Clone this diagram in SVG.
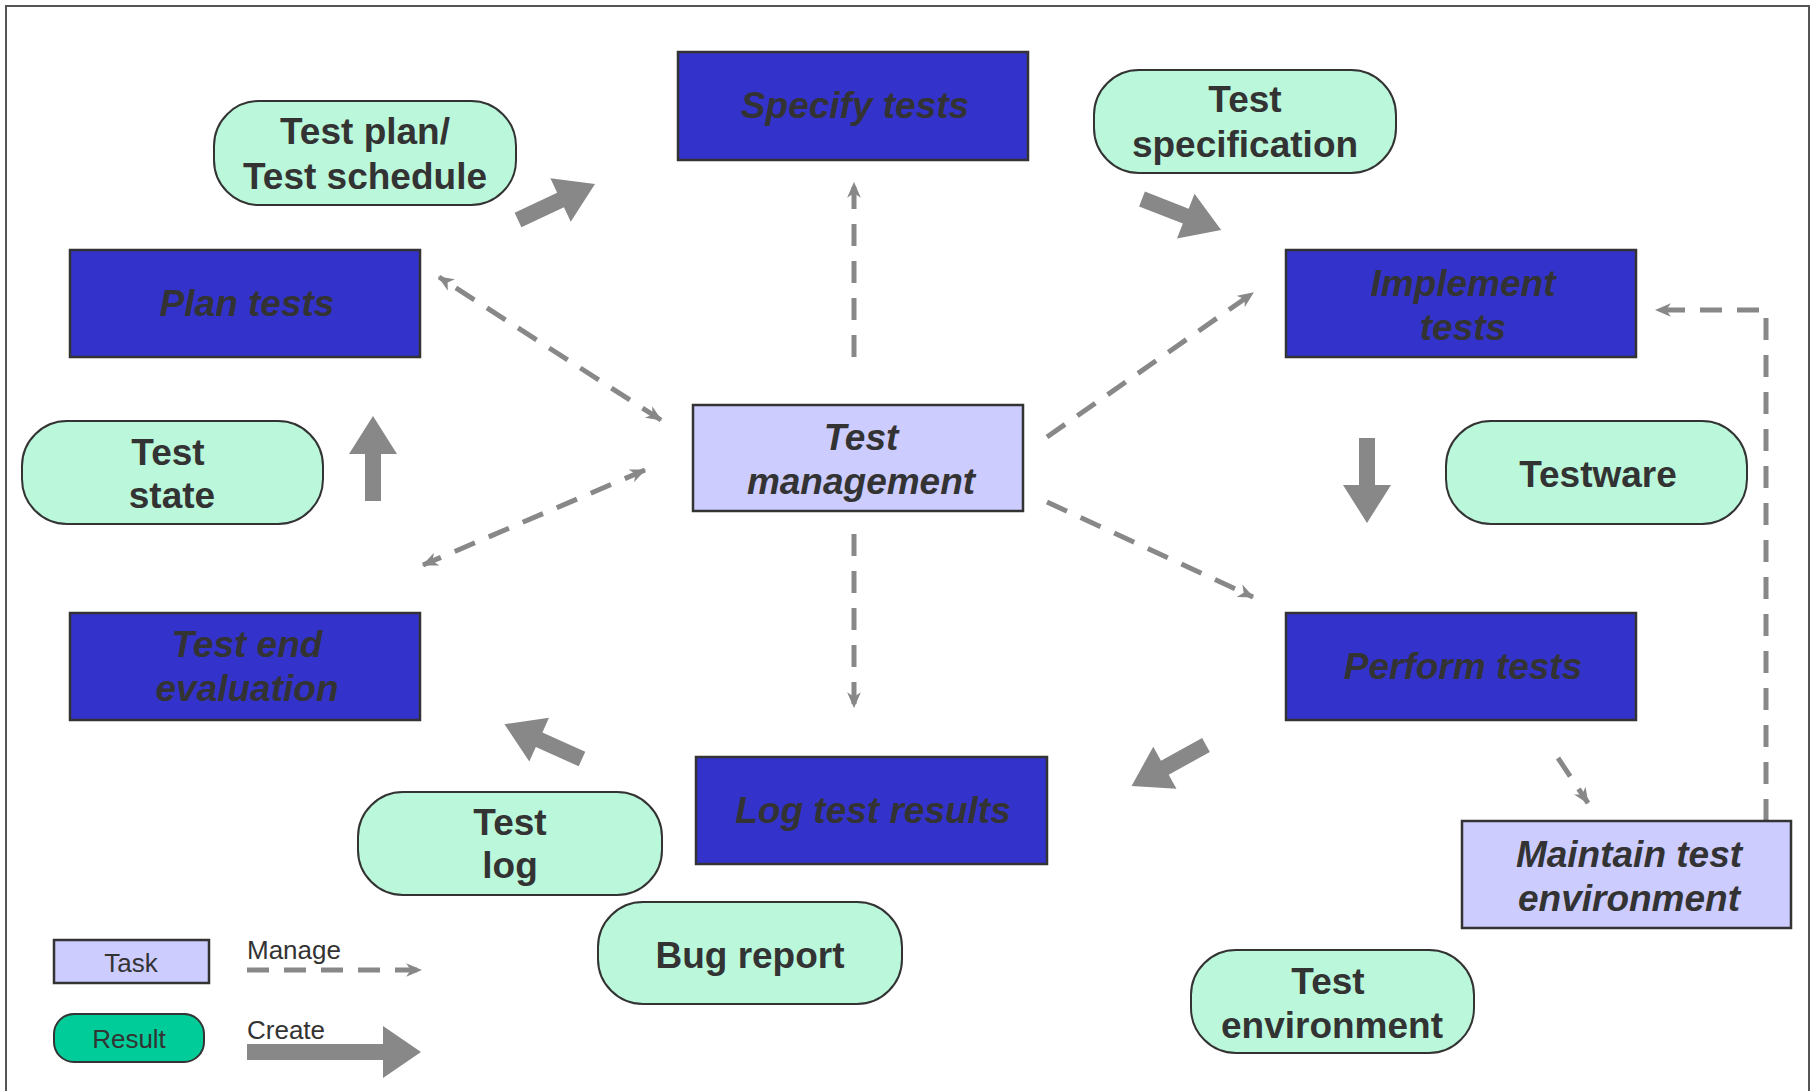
<svg xmlns="http://www.w3.org/2000/svg" width="1818" height="1091" viewBox="0 0 1818 1091">
<style>
.task{fill:#3333cc;stroke:#333333;stroke-width:2.5}
.mgmt{fill:#ccccff;stroke:#333333;stroke-width:2.5}
.res{fill:#bbf8db;stroke:#333333;stroke-width:2}
.tt{font-family:"Liberation Sans",Arial,sans-serif;font-size:37px;font-weight:bold;font-style:italic;fill:#333333;text-anchor:middle}
.rt{font-family:"Liberation Sans",Arial,sans-serif;font-size:37px;font-weight:bold;fill:#333333;text-anchor:middle}
.lt{font-family:"Liberation Sans",Arial,sans-serif;font-size:26px;fill:#333333}
.dash{fill:none;stroke:#888888;stroke-width:5;stroke-dasharray:22 15;marker-end:url(#mh)}
.dash2{marker-start:url(#mh)}
.big{fill:#888888}
</style>
<defs>
<marker id="mh" viewBox="0 0 14 12" refX="13" refY="6" markerWidth="16" markerHeight="14" markerUnits="userSpaceOnUse" orient="auto-start-reverse">
<path d="M0,0 L14,6 L0,12 L4,6 Z" fill="#888888"/>
</marker>
<path id="ba" d="M0,-8 L47,-8 L47,-24 L85,0 L47,24 L47,8 L0,8 Z"/>
</defs>
<rect x="6" y="6" width="1803" height="1095" fill="#ffffff" stroke="#555555" stroke-width="2"/>

<g id="connectors">
<path class="dash" d="M854,357 L854,183"/>
<path class="dash dash2" d="M661,420 L439,277"/>
<path class="dash" d="M1047,437 L1253,293"/>
<path class="dash dash2" d="M645,470 L423,565"/>
<path class="dash" d="M1047,502 L1253,597"/>
<path class="dash" d="M854,534 L854,707"/>
<path class="dash" d="M1558,758 L1588,803"/>
<path class="dash" d="M1766,821 L1766,310 L1656,310"/>
<use href="#ba" class="big" transform="translate(518,220) rotate(-25.1)"/>
<use href="#ba" class="big" transform="translate(1142,199) rotate(21.4)"/>
<use href="#ba" class="big" transform="translate(1367,438) rotate(90)"/>
<use href="#ba" class="big" transform="translate(1206,745) rotate(151.1)"/>
<use href="#ba" class="big" transform="translate(582,759) rotate(204.2)"/>
<use href="#ba" class="big" transform="translate(373,501) rotate(-90)"/>
</g>

<g id="specify-tests"><rect class="task" x="678" y="52" width="350" height="108"/><text class="tt" x="855" y="118">Specify tests</text></g>
<g id="test-plan"><rect class="res" x="214" y="101" width="302" height="104" rx="45"/><text class="rt" x="365" y="144">Test plan/</text><text class="rt" x="365" y="189">Test schedule</text></g>
<g id="test-specification"><rect class="res" x="1094" y="70" width="302" height="103" rx="45"/><text class="rt" x="1245" y="112">Test</text><text class="rt" x="1245" y="157">specification</text></g>
<g id="plan-tests"><rect class="task" x="70" y="250" width="350" height="107"/><text class="tt" x="247" y="316">Plan tests</text></g>
<g id="implement-tests"><rect class="task" x="1286" y="250" width="350" height="107"/><text class="tt" x="1463" y="296">Implement</text><text class="tt" x="1463" y="340">tests</text></g>
<g id="test-state"><rect class="res" x="22" y="421" width="301" height="103" rx="45"/><text class="rt" x="168" y="465">Test</text><text class="rt" x="172" y="508">state</text></g>
<g id="test-management"><rect class="mgmt" x="693" y="405" width="330" height="106"/><text class="tt" x="861" y="450">Test</text><text class="tt" x="861" y="494">management</text></g>
<g id="testware"><rect class="res" x="1446" y="421" width="301" height="103" rx="45"/><text class="rt" x="1598" y="487">Testware</text></g>
<g id="test-end-evaluation"><rect class="task" x="70" y="613" width="350" height="107"/><text class="tt" x="247" y="657">Test end</text><text class="tt" x="247" y="701">evaluation</text></g>
<g id="perform-tests"><rect class="task" x="1286" y="613" width="350" height="107"/><text class="tt" x="1463" y="679">Perform tests</text></g>
<g id="log-test-results"><rect class="task" x="696" y="757" width="351" height="107"/><text class="tt" x="873" y="823">Log test results</text></g>
<g id="test-log"><rect class="res" x="358" y="792" width="304" height="103" rx="45"/><text class="rt" x="510" y="835">Test</text><text class="rt" x="510" y="878">log</text></g>
<g id="maintain-test-environment"><rect class="mgmt" x="1462" y="821" width="329" height="107"/><text class="tt" x="1629" y="867">Maintain test</text><text class="tt" x="1629" y="911">environment</text></g>
<g id="bug-report"><rect class="res" x="598" y="902" width="304" height="102" rx="45"/><text class="rt" x="750" y="968">Bug report</text></g>
<g id="test-environment"><rect class="res" x="1191" y="950" width="283" height="103" rx="45"/><text class="rt" x="1328" y="994">Test</text><text class="rt" x="1332" y="1038">environment</text></g>

<g id="legend">
<rect class="mgmt" x="54" y="940" width="155" height="43" stroke-width="2"/>
<text class="lt" x="131" y="972" text-anchor="middle">Task</text>
<rect x="54" y="1014" width="150" height="48" rx="20" fill="#00cc99" stroke="#333333" stroke-width="2"/>
<text class="lt" x="129" y="1048" text-anchor="middle">Result</text>
<text class="lt" x="247" y="959">Manage</text>
<path class="dash" d="M247,970 L421,970"/>
<text class="lt" x="247" y="1039">Create</text>
<path class="big" d="M247,1044 L383,1044 L383,1026 L421,1052 L383,1078 L383,1060 L247,1060 Z"/>
</g>
</svg>
